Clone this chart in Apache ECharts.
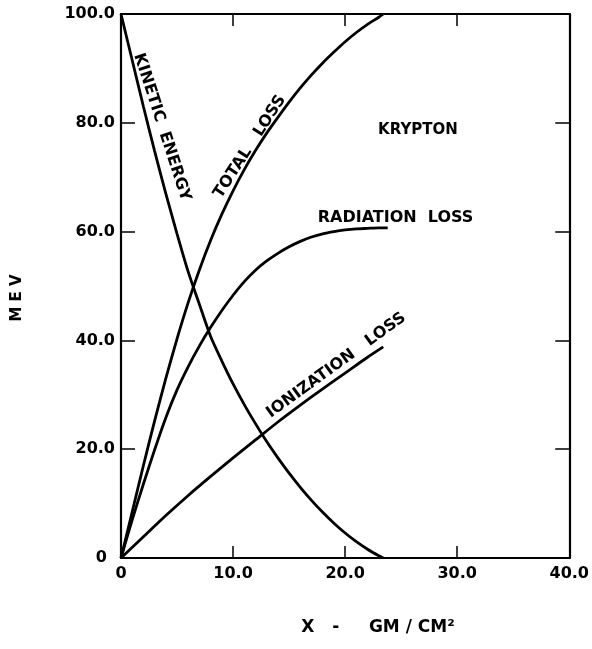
<!DOCTYPE html>
<html>
<head>
<meta charset="utf-8">
<script src="https://cdn.jsdelivr.net/npm/echarts@6/dist/echarts.min.js"></script>
<style>
  html, body { margin: 0; padding: 0; background: #fff; }
  #main { width: 592px; height: 649px; }
</style>
</head>
<body>
<div id="main"></div>
<script>
// depth (gm/cm2) and energy (MeV)
let keX = [0, 1, 2, 3, 4, 5, 6, 7, 8, 9, 10, 11, 12, 13, 14, 15, 16, 17, 18, 19, 20, 21, 22, 23, 23.4];
let keY = [100, 91.5, 83.0, 74.8, 67.0, 59.6, 52.6, 46.6, 40.7, 36.2, 32.0, 28.2, 24.7, 21.4, 18.4, 15.6, 13.0, 10.6, 8.4, 6.4, 4.6, 3.0, 1.6, 0.4, 0];

let totalX = [0, 1, 2, 3, 4, 5, 6, 7, 8, 9, 10, 11, 12, 13, 14, 15, 16, 17, 18, 19, 20, 21, 22, 23, 23.4];
let totalY = [0, 8.5, 17.0, 25.2, 33.0, 40.3, 47.0, 53.0, 58.4, 63.2, 67.5, 71.4, 74.9, 78.1, 81.0, 83.8, 86.4, 88.8, 91.0, 93.0, 94.9, 96.6, 98.1, 99.4, 100];

let radX = [0, 1, 2, 3, 4, 5, 6, 7, 8, 9, 10, 11, 12, 13, 14, 15, 16, 17, 18, 19, 20, 21, 22, 23, 23.8];
let radY = [0, 7.0, 13.6, 19.9, 25.8, 30.9, 35.2, 39.0, 42.4, 45.5, 48.3, 50.8, 52.9, 54.6, 56.0, 57.2, 58.2, 59.0, 59.6, 60.0, 60.3, 60.5, 60.6, 60.7, 60.7];

let ionX = [0, 2, 4, 6, 8, 10, 12, 14, 16, 18, 20, 22, 23.4];
let ionY = [0, 3.9, 7.8, 11.5, 15.0, 18.4, 21.7, 25.0, 28.1, 31.1, 34.0, 36.9, 38.8];

// curve labels: text, x, y, angle, size
let noteText = ['KINETIC  ENERGY', 'TOTAL   LOSS', 'RADIATION  LOSS', 'KRYPTON', 'IONIZATION   LOSS'];
let noteX = [3.65, 11.5, 24.5, 26.5, 19.2];
let noteY = [79.2, 75.6, 62.5, 78.7, 35.4];
let noteRot = [-72, 57, 0, 0, 36];
let noteSize = [16, 16, 16, 15, 16];

let xTicks = [0, 10, 20, 30, 40];
let yTicks = [0, 20, 40, 60, 80, 100];

const font = 'DejaVu Sans';

function pairs(xs, ys) {
    return xs.map(function (x, i) { return [x, ys[i]]; });
}

function curve(name, xs, ys) {
    return {
        name: name,
        type: 'line',
        data: pairs(xs, ys),
        smooth: 0.25,
        showSymbol: false,
        lineStyle: { color: '#000', width: 2.8 },
        z: 3
    };
}

function tickFmt(v) {
    return v === 0 ? '0' : v.toFixed(1);
}

function xAxisOf(pos, labels) {
    return {
        type: 'value',
        position: pos,
        min: xTicks[0],
        max: xTicks[xTicks.length - 1],
        interval: 10,
        axisLine: { onZero: false, lineStyle: { color: '#000', width: 2.2 } },
        axisTick: { inside: true, length: 12, lineStyle: { color: '#000', width: 1.5 } },
        splitLine: { show: false },
        axisLabel: {
            show: labels, formatter: tickFmt, margin: 8,
            color: '#000', fontFamily: font, fontWeight: 'bold', fontSize: 16
        }
    };
}

function yAxisOf(pos, labels) {
    return {
        type: 'value',
        position: pos,
        min: yTicks[0],
        max: yTicks[yTicks.length - 1],
        interval: 20,
        axisLine: { show: true, onZero: false, lineStyle: { color: '#000', width: 2.2 } },
        axisTick: { show: true, inside: true, length: 14, lineStyle: { color: '#000', width: 1.5 } },
        splitLine: { show: false },
        axisLabel: {
            show: labels,
            formatter: function (v) { return v === 0 ? '{z|0}' : v.toFixed(1); },
            margin: 6,
            color: '#000', fontFamily: font, fontWeight: 'bold', fontSize: 16,
            rich: { z: { padding: [0, 8, 0, 0], color: '#000', fontFamily: font, fontWeight: 'bold', fontSize: 16 } }
        }
    };
}

let chart = echarts.init(document.getElementById('main'), null, { renderer: 'canvas' });

let option = {
    backgroundColor: '#fff',
    animation: false,
    grid: { left: 121, right: 18, top: 14, bottom: 91 },
    xAxis: [xAxisOf('bottom', true), xAxisOf('top', false)],
    yAxis: [yAxisOf('left', true), yAxisOf('right', false)],
    series: [
        curve('Kinetic energy', keX, keY),
        curve('Total loss', totalX, totalY),
        curve('Radiation loss', radX, radY),
        curve('Ionization loss', ionX, ionY),
        {
            name: 'notes',
            type: 'scatter',
            symbolSize: 0,
            silent: true,
            itemStyle: { opacity: 1 },
            data: noteText.map(function (t, i) {
                return {
                    value: [noteX[i], noteY[i]],
                    name: t,
                    label: { rotate: noteRot[i], fontSize: noteSize[i] }
                };
            }),
            label: {
                show: true,
                position: 'inside',
                formatter: '{b}',
                color: '#000',
                fontFamily: font,
                fontWeight: 'bold',
                fontSize: 16
            },
            z: 5
        }
    ],
    graphic: [{
        type: 'text',
        x: 17, y: 298,
        rotation: Math.PI / 2,
        style: {
            text: 'M E V', fill: '#000',
            font: 'bold 15px "DejaVu Sans"',
            align: 'center', verticalAlign: 'middle'
        }
    }, {
        type: 'text',
        x: 378, y: 628,
        style: {
            text: 'X   -     GM / CM²', fill: '#000',
            font: 'bold 17px "DejaVu Sans"',
            align: 'center', verticalAlign: 'middle'
        }
    }]
};

chart.setOption(option);
</script>
</body>
</html>
